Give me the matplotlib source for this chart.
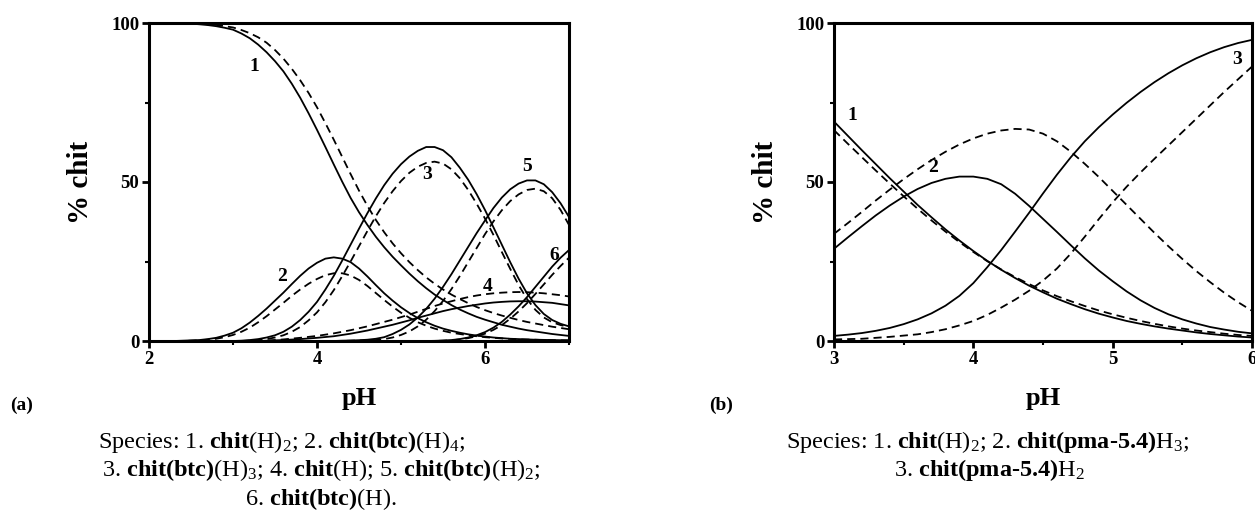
import numpy as np
import matplotlib
matplotlib.use("Agg")
import matplotlib.pyplot as plt
from matplotlib.ticker import MultipleLocator

plt.rcParams['font.family'] = ['Liberation Serif', 'DejaVu Serif']
plt.rcParams['font.weight'] = 'bold'
plt.rcParams['mathtext.fontset'] = 'custom'
plt.rcParams['mathtext.rm'] = 'Liberation Serif:normal'
plt.rcParams['mathtext.bf'] = 'Liberation Serif:bold'
plt.rcParams['mathtext.it'] = 'Liberation Serif:italic:normal'

# --- panel (a): chit + btc, pH 2..7 in steps of 0.1 ---
ph_a = [2.0, 2.1, 2.2, 2.3, 2.4, 2.5, 2.6, 2.7, 2.8, 2.9,
        3.0, 3.1, 3.2, 3.3, 3.4, 3.5, 3.6, 3.7, 3.8, 3.9,
        4.0, 4.1, 4.2, 4.3, 4.4, 4.5, 4.6, 4.7, 4.8, 4.9,
        5.0, 5.1, 5.2, 5.3, 5.4, 5.5, 5.6, 5.7, 5.8, 5.9,
        6.0, 6.1, 6.2, 6.3, 6.4, 6.5, 6.6, 6.7, 6.8, 6.9, 7.0]

a1_solid = [100, 100, 100, 99.95, 99.9, 99.8, 99.6, 99.35, 99.0, 98.5,
            97.9, 96.7, 95.2, 93.2, 90.8, 88.0, 84.8, 80.9, 76.5, 71.6,
            66.4, 61.0, 55.5, 50.1, 45.0, 40.5, 36.5, 32.8, 29.5, 26.5,
            23.8, 21.2, 18.8, 16.6, 14.6, 12.9, 11.3, 9.9, 8.7, 7.6,
            6.7, 5.9, 5.1, 4.5, 3.9, 3.4, 3.0, 2.6, 2.2, 1.9, 1.6]
a1_dash = [100, 100, 100, 100, 100, 99.9, 99.8, 99.6, 99.4, 99.0,
           98.6, 97.8, 96.8, 95.5, 93.8, 91.5, 88.8, 85.6, 82.0, 78.0,
           73.5, 68.5, 63.3, 57.9, 52.5, 47.3, 42.5, 38.1, 34.2, 30.7,
           27.6, 24.8, 22.3, 20.0, 18.0, 16.2, 14.6, 13.2, 11.9, 10.7,
           9.7, 8.8, 8.0, 7.3, 6.6, 6.0, 5.5, 5.0, 4.5, 4.1, 3.7]
a2_solid = [0, 0, 0, 0, 0.1, 0.2, 0.3, 0.6, 1.0, 1.7,
            2.6, 4.0, 5.8, 7.9, 10.2, 12.7, 15.2, 17.9, 20.5, 22.8,
            24.6, 25.9, 26.3, 25.9, 24.8, 22.8, 20.3, 17.6, 15.0, 12.7,
            10.6, 8.8, 7.2, 5.9, 4.8, 3.9, 3.2, 2.6, 2.1, 1.7,
            1.4, 1.1, 0.9, 0.7, 0.6, 0.5, 0.4, 0.35, 0.3, 0.25, 0.2]
a2_dash = [0, 0, 0, 0, 0, 0.1, 0.2, 0.4, 0.7, 1.2,
           1.9, 2.9, 4.2, 5.9, 7.8, 9.9, 12.0, 14.2, 16.2, 18.0,
           19.5, 20.7, 21.3, 21.3, 20.6, 19.2, 17.3, 15.1, 12.9, 10.8,
           8.9, 7.3, 5.9, 4.8, 3.9, 3.2, 2.6, 2.2, 1.8, 1.5,
           1.2, 1.0, 0.8, 0.65, 0.5, 0.45, 0.4, 0.3, 0.25, 0.2, 0.2]
a3_solid = [0, 0, 0, 0, 0, 0, 0, 0, 0, 0,
            0, 0.1, 0.3, 0.6, 1.1, 1.8, 2.9, 4.5, 6.6, 9.2,
            12.3, 16.2, 20.5, 25.3, 30.3, 35.3, 40.2, 44.8, 49.0, 52.6,
            55.6, 58.0, 59.8, 61.0, 61.0, 60.0, 57.8, 54.5, 50.7, 46.2,
            41.2, 35.8, 30.3, 24.8, 19.6, 15.0, 11.3, 8.5, 6.6, 5.4, 4.6]
a3_dash = [0, 0, 0, 0, 0, 0, 0, 0, 0, 0,
           0, 0, 0.1, 0.3, 0.6, 1.1, 1.8, 2.9, 4.4, 6.5,
           9.0, 12.2, 16.0, 20.4, 25.0, 29.8, 34.6, 39.2, 43.4, 47.1,
           50.3, 52.9, 54.8, 56.0, 56.4, 55.8, 54.0, 51.2, 47.5, 43.2,
           38.5, 33.4, 28.0, 22.7, 17.6, 13.2, 9.8, 7.4, 5.9, 5.0, 4.4]
a4_solid = [0, 0, 0, 0, 0, 0, 0, 0, 0, 0,
            0, 0, 0, 0, 0.1, 0.2, 0.3, 0.45, 0.6, 0.8,
            1.0, 1.25, 1.5, 1.9, 2.3, 2.8, 3.3, 3.9, 4.5, 5.1,
            5.8, 6.5, 7.3, 8.0, 8.7, 9.4, 10.0, 10.5, 11.0, 11.4,
            11.8, 12.1, 12.3, 12.45, 12.5, 12.5, 12.4, 12.2, 12.0, 11.6, 11.2]
a4_dash = [0, 0, 0, 0, 0, 0, 0, 0, 0, 0,
           0, 0, 0, 0, 0.1, 0.3, 0.5, 0.75, 1.0, 1.3,
           1.6, 2.0, 2.4, 2.9, 3.4, 4.0, 4.6, 5.3, 6.0, 6.7,
           7.5, 8.3, 9.2, 10.1, 11.0, 11.8, 12.5, 13.2, 13.8, 14.3,
           14.7, 15.0, 15.2, 15.35, 15.4, 15.35, 15.2, 15.0, 14.7, 14.4, 14.0]
a5_solid = [0, 0, 0, 0, 0, 0, 0, 0, 0, 0,
            0, 0, 0, 0, 0, 0, 0, 0, 0, 0,
            0, 0, 0, 0.1, 0.15, 0.25, 0.4, 0.7, 1.2, 2.2,
            3.5, 5.2, 7.4, 10.1, 13.3, 17.0, 21.0, 25.3, 29.6, 33.9,
            37.9, 41.8, 45.1, 47.7, 49.5, 50.5, 50.5, 49.3, 46.8, 43.3, 39.0]
a5_dash = [0, 0, 0, 0, 0, 0, 0, 0, 0, 0,
           0, 0, 0, 0, 0, 0, 0, 0, 0, 0,
           0, 0, 0, 0, 0.1, 0.15, 0.2, 0.3, 0.6, 1.1,
           1.9, 3.0, 4.6, 6.7, 9.4, 12.6, 16.3, 20.4, 24.8, 29.2,
           33.6, 37.6, 41.1, 44.0, 46.1, 47.5, 47.9, 47.1, 44.9, 41.2, 36.5]
a6_solid = [0, 0, 0, 0, 0, 0, 0, 0, 0, 0,
            0, 0, 0, 0, 0, 0, 0, 0, 0, 0,
            0, 0, 0, 0, 0, 0, 0, 0, 0, 0,
            0, 0, 0, 0, 0.05, 0.15, 0.3, 0.6, 1.1, 1.8,
            2.8, 4.2, 6.0, 8.3, 10.9, 13.8, 17.0, 20.2, 23.4, 26.2, 28.6]
a6_dash = [0, 0, 0, 0, 0, 0, 0, 0, 0, 0,
           0, 0, 0, 0, 0, 0, 0, 0, 0, 0,
           0, 0, 0, 0, 0, 0, 0, 0, 0, 0,
           0, 0, 0, 0, 0, 0.1, 0.2, 0.5, 0.9, 1.5,
           2.3, 3.5, 5.0, 7.0, 9.3, 11.9, 14.8, 17.8, 20.8, 23.6, 26.2]

labels_a = ['1', '2', '3', '4', '5', '6']
label_pos_a = [(3.25, 86.4), (3.59, 20.3), (5.31, 52.3), (6.03, 17.1), (6.5, 54.9), (6.82, 27)]

# --- panel (b): chit + pma-5.4, pH 3..6 in steps of 0.1 ---
ph_b = [3.0, 3.1, 3.2, 3.3, 3.4, 3.5, 3.6, 3.7, 3.8, 3.9,
        4.0, 4.1, 4.2, 4.3, 4.4, 4.5, 4.6, 4.7, 4.8, 4.9,
        5.0, 5.1, 5.2, 5.3, 5.4, 5.5, 5.6, 5.7, 5.8, 5.9, 6.0]

b1_solid = [69.0, 64.5, 60.0, 55.6, 51.2, 47.0, 42.8, 38.9, 35.1, 31.6,
            28.3, 25.2, 22.4, 19.8, 17.4, 15.3, 13.3, 11.6, 10.0, 8.6,
            7.4, 6.3, 5.4, 4.6, 3.9, 3.3, 2.7, 2.2, 1.8, 1.4, 1.1]
b1_dash = [66.3, 62.0, 57.8, 53.6, 49.5, 45.5, 41.6, 37.9, 34.4, 31.1,
           28.0, 25.1, 22.5, 20.1, 17.9, 15.9, 14.1, 12.5, 11.0, 9.6,
           8.4, 7.3, 6.3, 5.4, 4.6, 3.9, 3.3, 2.8, 2.3, 1.9, 1.6]
b2_solid = [29.0, 32.6, 36.1, 39.5, 42.6, 45.4, 47.8, 49.7, 51.0, 51.7,
            51.7, 51.0, 49.3, 46.3, 42.5, 38.4, 34.3, 30.1, 26.0, 22.2,
            18.8, 15.6, 12.8, 10.4, 8.4, 6.8, 5.5, 4.4, 3.6, 2.9, 2.4]
b2_dash = [33.7, 37.1, 40.6, 44.2, 47.6, 50.9, 54.0, 56.9, 59.5, 61.8,
           63.7, 65.2, 66.2, 66.7, 66.5, 65.2, 62.8, 59.5, 55.7, 51.6,
           47.2, 42.8, 38.4, 34.0, 29.8, 25.8, 22.0, 18.5, 15.2, 12.2, 9.5]
b3_solid = [1.6, 2.0, 2.5, 3.2, 4.1, 5.3, 6.8, 8.7, 11.1, 14.2,
            18.2, 23.2, 28.6, 34.4, 40.3, 46.4, 52.3, 57.8, 62.8, 67.2,
            71.2, 74.9, 78.3, 81.4, 84.2, 86.7, 88.9, 90.8, 92.4, 93.7, 94.7]
b3_dash = [0.5, 0.6, 0.7, 1.0, 1.3, 1.7, 2.1, 2.8, 3.7, 4.9,
           6.3, 8.2, 10.5, 13.0, 15.8, 19.0, 22.8, 27.5, 32.8, 38.3,
           43.6, 48.5, 53.0, 57.3, 61.5, 65.7, 69.9, 74.1, 78.3, 82.3, 86.3]

labels_b = ['1', '2', '3']
label_pos_b = [(3.13, 71), (3.71, 54.7), (5.89, 88.4)]

caption_a = [r'Species: 1. $\mathbf{chit}\mathrm{(H)}_2$; 2. $\mathbf{chit(btc)}\mathrm{(H)}_4$;',
             r'3. $\mathbf{chit(btc)}\mathrm{(H)}_3$; 4. $\mathbf{chit}\mathrm{(H)}$; 5. $\mathbf{chit(btc)}\mathrm{(H)}_2$;',
             r'6. $\mathbf{chit(btc)}\mathrm{(H)}$.']
caption_a_x = [282, 321, 321]
caption_b = ['Species: 1. $\\mathbf{chit}\\mathrm{(H)}_2$; 2. $\\mathbf{chit(pma\u20105.4)}\\mathrm{H}_3$;',
             '3. $\\mathbf{chit(pma\u20105.4)}\\mathrm{H}_2$']
caption_b_x = [988, 989]

DASH = (0, (4.5, 2.8))


def style_axes(ax, xlim, xmajor, xminor):
    ax.set_xlim(*xlim)
    ax.set_ylim(0, 100)
    ax.xaxis.set_major_locator(MultipleLocator(xmajor))
    ax.xaxis.set_minor_locator(MultipleLocator(xminor))
    ax.yaxis.set_major_locator(MultipleLocator(50))
    ax.yaxis.set_minor_locator(MultipleLocator(25))
    for s in ax.spines.values():
        s.set_linewidth(2.2)
    ax.tick_params(which='major', direction='out', length=5, width=2, labelsize=13.5, pad=2)
    ax.tick_params(which='minor', direction='out', length=3, width=1.5)
    ax.set_ylabel('% chit', fontsize=21, fontweight='bold', labelpad=12)


fig = plt.figure(figsize=(12.55, 5.30), dpi=100)
ax1 = fig.add_axes([149 / 1255, 189 / 530, 420 / 1255, 318 / 530])
ax2 = fig.add_axes([834 / 1255, 189 / 530, 418 / 1255, 318 / 530])

for ys, yd in [(a1_solid, a1_dash), (a2_solid, a2_dash), (a3_solid, a3_dash),
               (a4_solid, a4_dash), (a5_solid, a5_dash), (a6_solid, a6_dash)]:
    ax1.plot(ph_a, ys, color='black', lw=1.3)
    ax1.plot(ph_a, yd, color='black', lw=1.3, linestyle=DASH)
for lab, (x, y) in zip(labels_a, label_pos_a):
    ax1.text(x, y, lab, fontsize=14, fontweight='bold', ha='center', va='center')
style_axes(ax1, (2, 7), 2, 1)

for ys, yd in [(b1_solid, b1_dash), (b2_solid, b2_dash), (b3_solid, b3_dash)]:
    ax2.plot(ph_b, ys, color='black', lw=1.3)
    ax2.plot(ph_b, yd, color='black', lw=1.3, linestyle=DASH)
for lab, (x, y) in zip(labels_b, label_pos_b):
    ax2.text(x, y, lab, fontsize=14, fontweight='bold', ha='center', va='center')
style_axes(ax2, (3, 6), 1, 0.5)

# axis titles and panel letters
fig.text(359 / 1255, 1 - 398 / 530, 'pH', fontsize=19, fontweight='bold', ha='center', va='center')
fig.text(1043 / 1255, 1 - 398 / 530, 'pH', fontsize=19, fontweight='bold', ha='center', va='center')
fig.text(10 / 1255, 1 - 405 / 530, '(a)', fontsize=14, fontweight='bold', ha='left', va='center')
fig.text(709 / 1255, 1 - 405 / 530, '(b)', fontsize=14, fontweight='bold', ha='left', va='center')

# captions
for i, (line, cx) in enumerate(zip(caption_a, caption_a_x)):
    fig.text(cx / 1255, 1 - (448 + 28.5 * i) / 530, line, fontsize=17.5,
             fontweight='normal', ha='center', va='baseline')
for i, (line, cx) in enumerate(zip(caption_b, caption_b_x)):
    fig.text(cx / 1255, 1 - (448 + 28 * i) / 530, line, fontsize=17.5,
             fontweight='normal', ha='center', va='baseline')

fig.savefig('out.png', dpi=100)
